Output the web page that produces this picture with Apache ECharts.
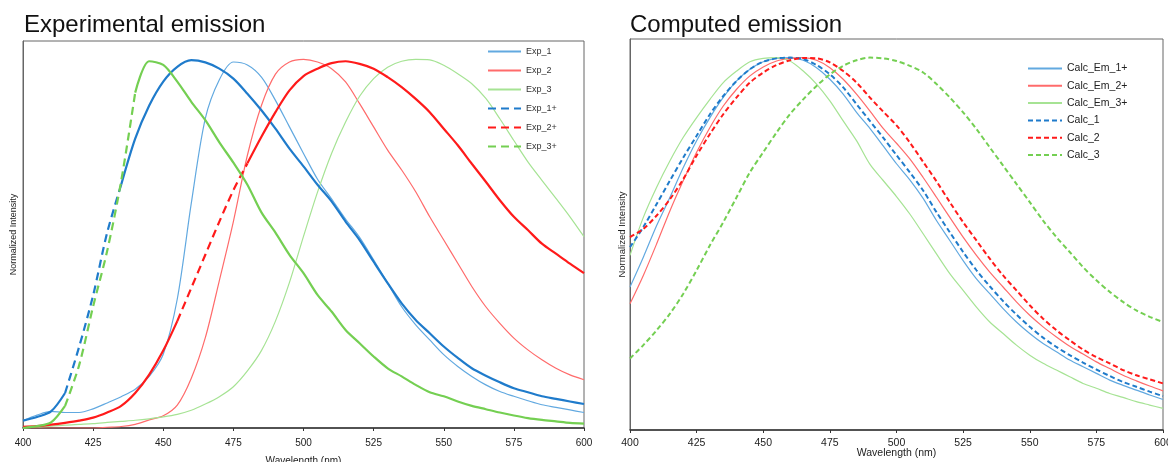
<!DOCTYPE html>
<html>
<head>
<meta charset="utf-8">
<script src="https://cdn.jsdelivr.net/npm/echarts@6/dist/echarts.min.js"></script>
<style>
html,body{margin:0;padding:0;background:#fff;overflow:hidden;}
#c{width:1168px;height:462px;}
</style>
</head>
<body>
<div id="c"></div>
<script>
// ---------- data ----------
const wavelengths = [400,405,410,415,420,425,430,435,440,445,450,455,460,465,470,475,480,485,490,495,500,
                     505,510,515,520,525,530,535,540,545,550,555,560,565,570,575,580,585,590,595,600];
const xTicks = [400,425,450,475,500,525,550,575,600];

// Experimental emission
const exp1 = [0.02,0.035,0.045,0.042,0.042,0.052,0.068,0.085,0.105,0.14,0.2,0.35,0.61,0.84,0.945,0.993,0.985,0.952,0.889,0.817,0.745,
              0.675,0.622,0.567,0.517,0.456,0.393,0.329,0.28,0.239,0.199,0.167,0.14,0.117,0.099,0.086,0.074,0.063,0.056,0.049,0.042];
const exp2 = [0,0,0,0,0,0,0.002,0.004,0.01,0.022,0.033,0.062,0.135,0.245,0.4,0.56,0.74,0.875,0.96,0.993,1.0,
              0.993,0.975,0.939,0.88,0.817,0.754,0.7,0.641,0.573,0.51,0.447,0.384,0.329,0.284,0.244,0.212,0.185,0.162,0.144,0.131];
const exp3 = [0,0.003,0.005,0.008,0.01,0.012,0.015,0.018,0.021,0.025,0.03,0.037,0.048,0.065,0.085,0.112,0.155,0.21,0.29,0.395,0.52,
              0.64,0.745,0.83,0.9,0.948,0.979,0.995,1.0,0.999,0.984,0.961,0.934,0.894,0.839,0.78,0.722,0.672,0.623,0.573,0.519];
const exp1p = [0.02,0.03,0.045,0.095,0.22,0.36,0.53,0.66,0.785,0.875,0.94,0.98,0.998,0.992,0.975,0.948,0.907,0.862,0.812,0.758,0.71,
               0.66,0.615,0.56,0.51,0.451,0.393,0.338,0.293,0.257,0.221,0.19,0.162,0.142,0.124,0.108,0.097,0.086,0.079,0.072,0.065];
const exp2p = [0.003,0.005,0.009,0.014,0.02,0.028,0.042,0.06,0.095,0.145,0.21,0.29,0.38,0.47,0.56,0.645,0.718,0.79,0.857,0.916,0.955,
               0.975,0.99,0.995,0.988,0.975,0.952,0.925,0.893,0.857,0.812,0.767,0.717,0.668,0.618,0.573,0.537,0.5,0.473,0.446,0.42];
const exp3p = [0,0.005,0.015,0.06,0.17,0.33,0.48,0.67,0.91,0.995,0.985,0.94,0.885,0.835,0.775,0.72,0.66,0.585,0.53,0.47,0.42,
               0.361,0.316,0.266,0.23,0.194,0.162,0.14,0.117,0.097,0.086,0.072,0.06,0.051,0.042,0.034,0.027,0.022,0.018,0.014,0.012];

// Computed emission
const calcEm1 = [0.384,0.464,0.549,0.625,0.705,0.777,0.839,0.893,0.9375,0.969,0.989,0.998,1.0,0.993,0.973,0.942,0.902,0.853,0.81,0.763,0.715,
                 0.672,0.622,0.5625,0.509,0.455,0.406,0.366,0.326,0.29,0.259,0.232,0.21,0.188,0.17,0.152,0.134,0.12,0.107,0.094,0.082];
const calcEm2 = [0.339,0.415,0.5,0.589,0.67,0.746,0.8125,0.87,0.915,0.951,0.975,0.991,0.998,1.0,0.993,0.973,0.942,0.902,0.857,0.81,0.77,
                 0.728,0.678,0.625,0.571,0.518,0.469,0.424,0.384,0.344,0.308,0.277,0.25,0.225,0.204,0.183,0.165,0.147,0.132,0.118,0.105];
const calcEm3 = [0.469,0.571,0.652,0.723,0.786,0.839,0.888,0.933,0.964,0.989,0.998,1.0,0.991,0.964,0.929,0.884,0.83,0.777,0.714,0.67,0.627,
                 0.58,0.527,0.473,0.42,0.375,0.33,0.29,0.259,0.228,0.201,0.179,0.161,0.143,0.125,0.112,0.098,0.0875,0.076,0.067,0.058];
const calc1 = [0.491,0.545,0.607,0.67,0.732,0.79,0.848,0.897,0.9375,0.969,0.989,0.998,1.0,0.996,0.98,0.955,0.92,0.875,0.83,0.785,0.738,
               0.692,0.643,0.585,0.531,0.478,0.429,0.386,0.346,0.31,0.277,0.248,0.223,0.201,0.181,0.1625,0.145,0.129,0.116,0.103,0.091];
const calc2 = [0.518,0.54,0.576,0.62,0.674,0.737,0.795,0.848,0.893,0.933,0.96,0.98,0.993,0.999,0.998,0.987,0.964,0.933,0.893,0.855,0.818,
               0.772,0.72,0.668,0.612,0.558,0.509,0.46,0.415,0.375,0.335,0.299,0.268,0.241,0.216,0.196,0.179,0.161,0.147,0.136,0.125];
const calc3 = [0.192,0.228,0.268,0.3125,0.366,0.429,0.496,0.558,0.625,0.692,0.746,0.799,0.848,0.888,0.924,0.955,0.978,0.993,1.0,0.998,0.991,
               0.978,0.96,0.929,0.893,0.853,0.808,0.759,0.71,0.661,0.612,0.5625,0.518,0.478,0.4375,0.402,0.371,0.344,0.321,0.304,0.29];

const expNames = ['Exp_1','Exp_2','Exp_3','Exp_1+','Exp_2+','Exp_3+'];
const calcNames = ['Calc_Em_1+','Calc_Em_2+','Calc_Em_3+','Calc_1','Calc_2','Calc_3'];

// ---------- styling / building ----------
const C = {
  lb:'#62a9e0', lr:'#ff6b6b', lg:'#a6e394',
  db:'#1f7bcb', dr:'#ff1a1a', dg:'#74cf52'
};
const FONT = '"Liberation Sans", Arial, Helvetica, sans-serif';

function pts(vals){ return wavelengths.map((w,i)=>[w, vals[i]]); }
function part(vals, lo, hi, inside){
  return wavelengths.map((w,i)=>{
    const inRange = w>=lo && w<=hi;
    const edge = w===lo || w===hi;
    return [w, (inside ? inRange : (!inRange || edge)) ? vals[i] : '-'];
  });
}
function line(name, data, color, width, type, gi){
  return {
    name, type:'line', data, xAxisIndex:gi, yAxisIndex:gi,
    symbol:'none', smooth:0.3, connectNulls:false, animation:false,
    lineStyle:{color, width, type}, itemStyle:{color},
    emphasis:{disabled:true}
  };
}
// Excel renders the dense dashed "+" curves solid except where they are steep
const dashRanges = {'Exp_1+':[415,435], 'Exp_2+':[455,480], 'Exp_3+':[415,440]};
const expDash = [8,5];

const series = [
  line('Exp_1', pts(exp1), C.lb, 1.2, 'solid', 0),
  line('Exp_2', pts(exp2), C.lr, 1.2, 'solid', 0),
  line('Exp_3', pts(exp3), C.lg, 1.2, 'solid', 0),
];
[['Exp_1+',exp1p,C.db],['Exp_2+',exp2p,C.dr],['Exp_3+',exp3p,C.dg]].forEach(([n,v,c])=>{
  const [lo,hi] = dashRanges[n];
  series.push(line(n, part(v,lo,hi,true), c, 2.2, expDash, 0));
  series.push(line(n+' solid', part(v,lo,hi,false), c, 2.2, 'solid', 0));
});
const calcDash = [5,3];
series.push(
  line('Calc_Em_1+', pts(calcEm1), C.lb, 1.2, 'solid', 1),
  line('Calc_Em_2+', pts(calcEm2), C.lr, 1.2, 'solid', 1),
  line('Calc_Em_3+', pts(calcEm3), C.lg, 1.2, 'solid', 1),
  line('Calc_1', pts(calc1), C.db, 2, calcDash, 1),
  line('Calc_2', pts(calc2), C.dr, 2, calcDash, 1),
  line('Calc_3', pts(calc3), C.dg, 2, calcDash, 1)
);

function xAx(gi, fs, gap, margin){
  return {
    type:'value', gridIndex:gi, min:xTicks[0], max:xTicks[xTicks.length-1], interval:25,
    name:'Wavelength (nm)', nameLocation:'middle', nameGap:gap, nameMoveOverlap:false,
    nameTextStyle:{fontFamily:FONT, fontSize:fs, color:'#222'},
    axisLine:{show:true, lineStyle:{color:'#333', width:1.5}},
    axisTick:{show:true, length:3, lineStyle:{color:'#333'}},
    axisLabel:{fontFamily:FONT, fontSize:fs, color:'#222', margin,
      formatter:v=>xTicks.includes(v)?String(v):''},
    splitLine:{show:false}
  };
}
function yAx(gi, fs, gap){
  return {
    type:'value', gridIndex:gi, min:0, max:1.05,
    name:'Normalized Intensity', nameLocation:'middle', nameGap:gap, nameMoveOverlap:false,
    nameTextStyle:{fontFamily:FONT, fontSize:fs, color:'#222'},
    axisLine:{show:true, lineStyle:{color:'#666', width:1}},
    axisTick:{show:false}, axisLabel:{show:false}, splitLine:{show:false}
  };
}

const chart = echarts.init(document.getElementById('c'), null, {renderer:'canvas'});
chart.setOption({
  backgroundColor:'#fff',
  animation:false,
  title:[
    {text:'Experimental emission', left:24, top:13, padding:0, textStyle:{fontFamily:FONT, fontSize:24, fontWeight:'normal', color:'#111'}},
    {text:'Computed emission', left:630, top:13, padding:0, textStyle:{fontFamily:FONT, fontSize:24, fontWeight:'normal', color:'#111'}}
  ],
  grid:[
    {left:23, top:41, width:561, height:387, show:true, borderColor:'#666', borderWidth:1, containLabel:false, outerBoundsMode:'none'},
    {left:630, top:39, width:533, height:391, show:true, borderColor:'#666', borderWidth:1, containLabel:false, outerBoundsMode:'none'}
  ],
  xAxis:[xAx(0,10,28,10), xAx(1,10.5,18,8)],
  yAxis:[yAx(0,9,5), yAx(1,9.5,3)],
  legend:[
    {data:expNames, orient:'vertical', left:487, top:47, padding:0, itemWidth:33, itemHeight:10, itemGap:10,
     itemStyle:{opacity:0},
     textStyle:{fontFamily:'"Liberation Sans Narrow", '+FONT, fontSize:9, color:'#333'},
     selectedMode:false},
    {data:calcNames, orient:'vertical', left:1027, top:63, padding:0, itemWidth:34, itemHeight:10, itemGap:6.3,
     itemStyle:{opacity:0},
     textStyle:{fontFamily:FONT, fontSize:10.5, color:'#222'}, selectedMode:false}
  ],
  series
});
</script>
</body>
</html>
